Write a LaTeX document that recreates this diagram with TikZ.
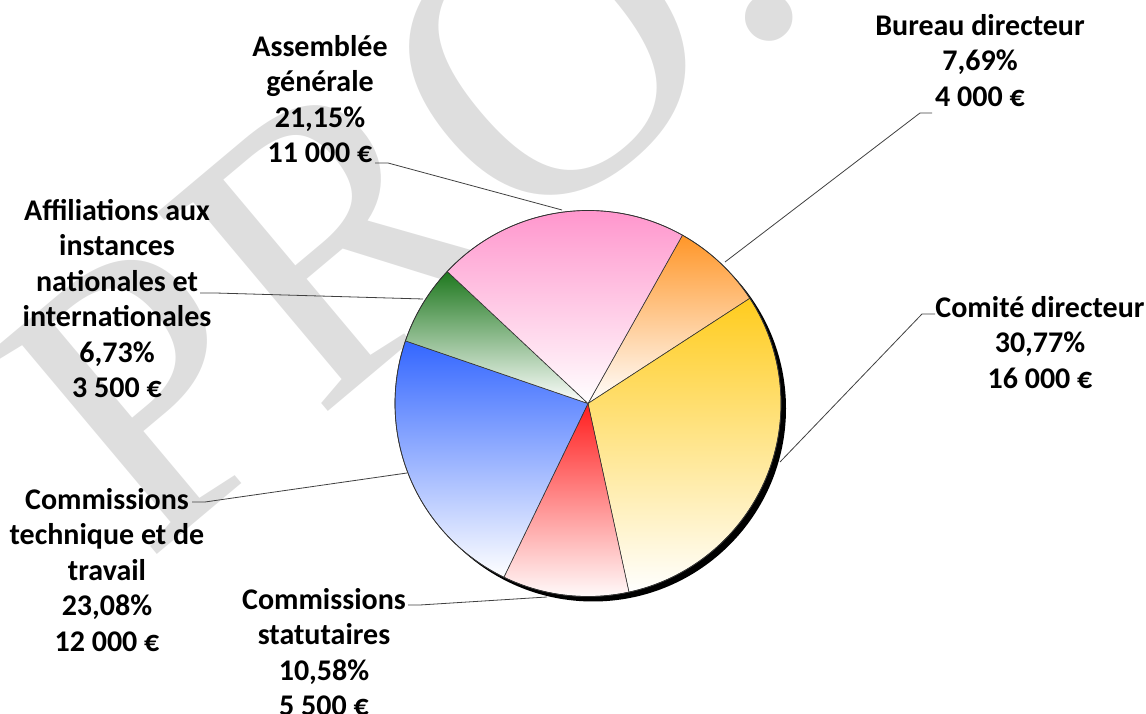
\documentclass[tikz,border=0pt]{standalone}
\usepackage{fontspec}
\setmainfont{Carlito}
\newfontfamily\wmfont{Liberation Serif}
\definecolor{pinkA}{RGB}{255,140,200}
\definecolor{orangeB}{RGB}{255,150,40}
\definecolor{goldC}{RGB}{255,204,30}
\definecolor{redS}{RGB}{255,30,30}
\definecolor{blueT}{RGB}{51,102,255}
\definecolor{greenF}{RGB}{30,120,30}
\begin{document}
\begin{tikzpicture}[x=1pt, y=1pt,
	slice/.style={draw=black!80, line width=0.6pt, bottom color=white},
	lbl/.style={font=\fontsize{30}{35.5}\selectfont\bfseries, align=center, inner sep=0pt, anchor=north},
	leader/.style={draw=black!75, line width=0.8pt},
	wmark/.style={text=black!13, rotate=40, font=\fontsize{400}{400}\selectfont\wmfont}]
				\useasboundingbox (0,0) rectangle (1146,714);

				% Watermark
				\node[wmark] (wm) at (400,532) {PRO.};

				% Pie
				\coordinate (c) at (588,310.5);
				\fill[black] ([shift={(5,-5)}]c) circle (193);
				\foreach \a/\b/\col in {60.7/33.02/orangeB, 33.02/-77.75/goldC, -77.75/-115.84/redS,
					-115.84/-198.93/blueT, -198.93/-223.16/greenF, -223.16/-299.3/pinkA}
					\shadedraw[slice, top color=\col] (c) -- ++(\a:193) arc[start angle=\a, end angle=\b, radius=193] -- cycle;
				\draw[black!80, line width=0.7pt] (c) circle (193);

				% Labels
				\node[lbl] (bureau) at (980,700) {Bureau directeur\\7,69\%\\4 000 €};
				\node[lbl] (comite) at (1040,418) {Comité directeur\\30,77\%\\16 000 €};
				\node[lbl] (statut) at (324,126) {Commissions\\statutaires\\10,58\%\\5 500 €};
				\node[lbl] (techn) at (107,226) {Commissions\\technique et de\\travail\\23,08\%\\12 000 €};
				\node[lbl] (affil) at (117,515) {Affiliations aux\\instances\\nationales et\\internationales\\6,73\%\\3 500 €};
				\node[lbl] (assemb) at (320,679) {Assemblée\\générale\\21,15\%\\11 000 €};

				% Leader lines
				\coordinate (pBur) at (725,452);
				\coordinate (eBur) at (920,601);
				\coordinate (tBur) at (932,601);
				\coordinate (pCom) at (780,252);
				\coordinate (eCom) at (922,400);
				\coordinate (tCom) at (935,400);
				\coordinate (pSta) at (547,117);
				\coordinate (eSta) at (420,109);
				\coordinate (tSta) at (408,109);
				\coordinate (pTec) at (407,241);
				\coordinate (eTec) at (205,212);
				\coordinate (tTec) at (192,212);
				\coordinate (pAff) at (423,415);
				\coordinate (eAff) at (215,421);
				\coordinate (tAff) at (200,421);
				\coordinate (pAss) at (562,504);
				\coordinate (eAss) at (388,551);
				\coordinate (tAss) at (375,551);
				\foreach \k in {Bur,Com,Sta,Tec,Aff,Ass}
					\draw[leader] (p\k) -- (e\k) -- (t\k);
			\end{tikzpicture}
\end{document}
